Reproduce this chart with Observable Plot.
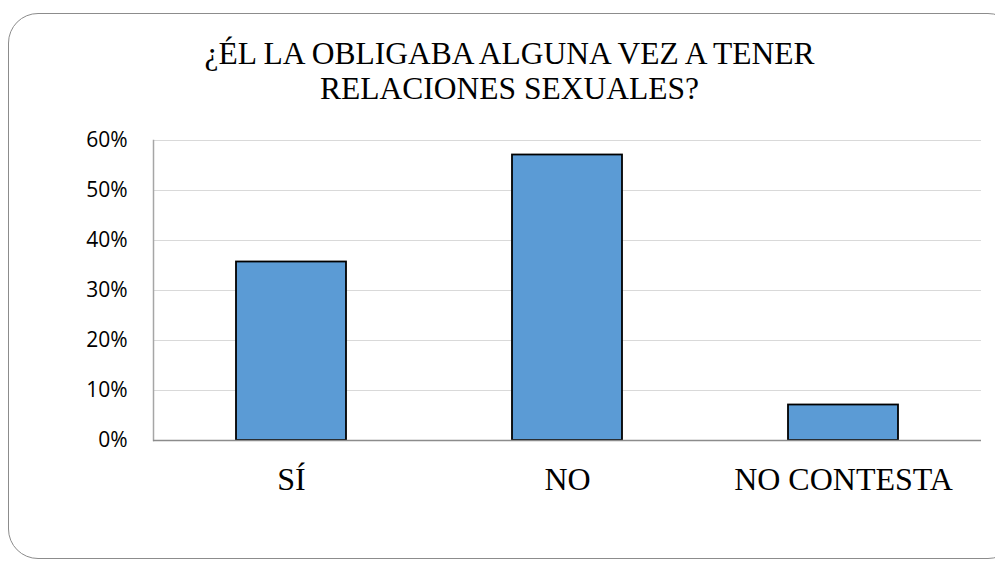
<!DOCTYPE html>
<html>
<head>
<meta charset="utf-8">
<script src="https://cdn.jsdelivr.net/npm/d3@7"></script>
<script src="https://cdn.jsdelivr.net/npm/@observablehq/plot@0.6"></script>
<style>
  html, body { margin: 0; padding: 0; background: #fff; width: 995px; height: 561px; overflow: hidden; }
  #frame { position: absolute; left: 8px; top: 13px; width: 1010px; height: 546px;
           border: 1.5px solid #8c8c8c; border-radius: 30px; box-sizing: border-box; }
  #chart { position: absolute; left: 0; top: 0; }
</style>
</head>
<body>
<div id="frame"></div>
<div id="chart"></div>
<script>
const titleLines = ["¿ÉL LA OBLIGABA ALGUNA VEZ A TENER", "RELACIONES SEXUALES?"];
const categories = ["SÍ", "NO", "NO CONTESTA"];
const values = [0.357, 0.571, 0.071];
const yTicks = [0, 0.1, 0.2, 0.3, 0.4, 0.5, 0.6];

const data = categories.map((c, i) => ({category: c, value: values[i]}));
const serif = "Liberation Serif";
const titleFont = "'Times New Roman', Tinos, 'Liberation Serif', serif";

const chart = Plot.plot({
  width: 995,
  height: 561,
  marginTop: 140,
  marginBottom: 121,
  marginLeft: 153,
  marginRight: 14,
  style: {background: "transparent", overflow: "visible"},
  x: {domain: categories, paddingInner: 0.6, paddingOuter: 0.3, label: null},
  y: {domain: [0, 0.6], ticks: yTicks, label: null},
  marks: [
    Plot.gridY(yTicks, {stroke: "#d9d9d9", strokeOpacity: 1, strokeWidth: 1}),
    Plot.frame({anchor: "left", stroke: "#a6a6a6", strokeWidth: 1.5}),
    Plot.barY(data, {x: "category", y: "value", fill: "#5B9BD5", stroke: "#000", strokeWidth: 1.8}),
    Plot.ruleY([0], {stroke: "#8c8c8c", strokeWidth: 1.5}),
    Plot.axisY(yTicks, {tickSize: 0, tickPadding: 26, tickFormat: d => Math.round(d * 100) + "%",
      fontSize: 21, fontFamily: "Open Sans", fill: "#000"}),
    Plot.axisX({tickSize: 0, tickPadding: 27, fontSize: 32, fontFamily: serif, fill: "#000"}),
    Plot.text([titleLines[0]], {frameAnchor: "top", lineAnchor: "middle", dx: -58, dy: -87,
      fontSize: 31.5, fontFamily: titleFont, fill: "#000"}),
    Plot.text([titleLines[1]], {frameAnchor: "top", lineAnchor: "middle", dx: -58, dy: -52,
      fontSize: 31.5, fontFamily: titleFont, fill: "#000"})
  ]
});
document.getElementById("chart").appendChild(chart);
</script>
</body>
</html>
